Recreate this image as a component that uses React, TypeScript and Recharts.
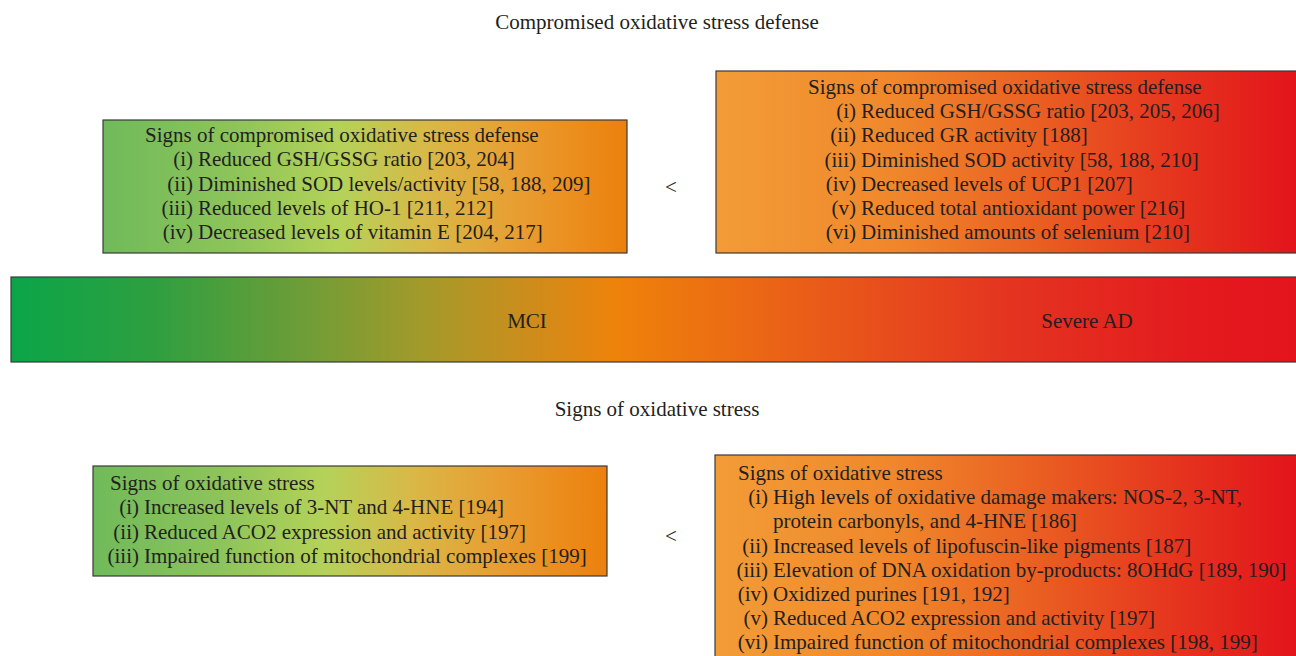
import React from 'react';
import { ComposedChart, XAxis, YAxis, ReferenceArea, ReferenceDot } from 'recharts';

// ---------- content ----------
const sectionHeadings = ['Compromised oxidative stress defense', 'Signs of oxidative stress'];
const stageLabels = ['MCI', 'Severe AD'];
const comparisonSymbol = '<';

const earlyDefenseTitle = 'Signs of compromised oxidative stress defense';
const earlyDefenseNumerals = ['(i)', '(ii)', '(iii)', '(iv)'];
const earlyDefenseItems = [
  ['Reduced GSH/GSSG ratio [203, 204]'],
  ['Diminished SOD levels/activity [58, 188, 209]'],
  ['Reduced levels of HO-1 [211, 212]'],
  ['Decreased levels of vitamin E [204, 217]'],
];

const lateDefenseTitle = 'Signs of compromised oxidative stress defense';
const lateDefenseNumerals = ['(i)', '(ii)', '(iii)', '(iv)', '(v)', '(vi)'];
const lateDefenseItems = [
  ['Reduced GSH/GSSG ratio [203, 205, 206]'],
  ['Reduced GR activity [188]'],
  ['Diminished SOD activity [58, 188, 210]'],
  ['Decreased levels of UCP1 [207]'],
  ['Reduced total antioxidant power [216]'],
  ['Diminished amounts of selenium [210]'],
];

const earlyStressTitle = 'Signs of oxidative stress';
const earlyStressNumerals = ['(i)', '(ii)', '(iii)'];
const earlyStressItems = [
  ['Increased levels of 3-NT and 4-HNE [194]'],
  ['Reduced ACO2 expression and activity [197]'],
  ['Impaired function of mitochondrial complexes [199]'],
];

const lateStressTitle = 'Signs of oxidative stress';
const lateStressNumerals = ['(i)', '(ii)', '(iii)', '(iv)', '(v)', '(vi)'];
const lateStressItems = [
  ['High levels of oxidative damage makers: NOS-2, 3-NT,', 'protein carbonyls, and 4-HNE [186]'],
  ['Increased levels of lipofuscin-like pigments [187]'],
  ['Elevation of DNA oxidation by-products: 8OHdG [189, 190]'],
  ['Oxidized purines [191, 192]'],
  ['Reduced ACO2 expression and activity [197]'],
  ['Impaired function of mitochondrial complexes [198, 199]'],
];

// ---------- layout / style ----------
const W = 1296;
const H = 656;
const FONT = '"Liberation Serif", "Times New Roman", serif';
const FS = 21;
const INK = '#231f20';
const BORDER = '#3a3a3a';

const boxes = [
  { title: earlyDefenseTitle, nums: earlyDefenseNumerals, items: earlyDefenseItems, x1: 103, x2: 627, y1: 120, y2: 253, titleDx: 42, numDx: 90, firstDy: 15, step: 24.3, grad: 'gGreen' },
  { title: lateDefenseTitle, nums: lateDefenseNumerals, items: lateDefenseItems, x1: 716, x2: 1300, y1: 71, y2: 253, titleDx: 92, numDx: 140, firstDy: 16, step: 24.2, grad: 'gRed' },
  { title: earlyStressTitle, nums: earlyStressNumerals, items: earlyStressItems, x1: 93, x2: 607, y1: 466, y2: 576, titleDx: 17, numDx: 46, firstDy: 17, step: 24.4, grad: 'gGreen' },
  { title: lateStressTitle, nums: lateStressNumerals, items: lateStressItems, x1: 715, x2: 1300, y1: 455, y2: 700, titleDx: 23, numDx: 53, firstDy: 18, step: 24.2, grad: 'gRed' },
];

const headingPos = [{ x: 657, y: 22 }, { x: 657, y: 409 }];
const stagePos = [{ x: 527, y: 321 }, { x: 1087, y: 321 }];
const symbolPos = [{ x: 671, y: 187 }, { x: 671, y: 536 }];
const bar = { x1: 11, x2: 1300, y1: 277, y2: 362 };

const makeBoxShape = (b: any) => (p: any) => {
  const { x, y, width, height } = p;
  const rows: any[] = [];
  let line = 1;
  b.items.forEach((parts: string[], i: number) => {
    parts.forEach((t: string, k: number) => {
      const ly = y + b.firstDy + line * b.step;
      if (k === 0) {
        rows.push(
          <text key={`n${i}`} x={x + b.numDx} y={ly} textAnchor="end" dominantBaseline="central" fontFamily={FONT} fontSize={FS} fill={INK}>
            {b.nums[i]}
          </text>
        );
      }
      rows.push(
        <text key={`t${i}-${k}`} x={x + b.numDx + 5} y={ly} dominantBaseline="central" fontFamily={FONT} fontSize={FS} fill={INK}>
          {t}
        </text>
      );
      line += 1;
    });
  });
  return (
    <g>
      <rect x={x} y={y} width={width} height={height} fill={`url(#${b.grad})`} stroke={BORDER} strokeWidth={1.2} />
      <text x={x + b.titleDx} y={y + b.firstDy} dominantBaseline="central" fontFamily={FONT} fontSize={FS} fill={INK}>
        {b.title}
      </text>
      {rows}
    </g>
  );
};

const textShape = (value: string) => (p: any) => (
  <text x={p.cx} y={p.cy} textAnchor="middle" dominantBaseline="central" fontFamily={FONT} fontSize={FS} fill={INK}>
    {value}
  </text>
);

const barShape = (p: any) => (
  <rect x={p.x} y={p.y} width={p.width} height={p.height} fill="url(#gBar)" stroke={BORDER} strokeWidth={1.2} />
);

export default function App() {
  return (
    <div style={{ position: 'absolute', left: 0, top: 0, width: W, height: H, background: '#fff' }}>
      <svg width={0} height={0} style={{ position: 'absolute' }}>
        <defs>
          <linearGradient id="gGreen" x1="0" y1="0" x2="1" y2="0">
            <stop offset="0" stopColor="#70ba5b" />
            <stop offset="0.25" stopColor="#8dc45a" />
            <stop offset="0.45" stopColor="#b4d259" />
            <stop offset="0.62" stopColor="#d9b847" />
            <stop offset="0.8" stopColor="#e99c30" />
            <stop offset="1" stopColor="#ec800c" />
          </linearGradient>
          <linearGradient id="gRed" x1="0" y1="0" x2="1" y2="0">
            <stop offset="0" stopColor="#f29c37" />
            <stop offset="0.3" stopColor="#f0882b" />
            <stop offset="0.55" stopColor="#ea5f22" />
            <stop offset="0.8" stopColor="#e5321e" />
            <stop offset="1" stopColor="#e3131b" />
          </linearGradient>
          <linearGradient id="gBar" x1="0" y1="0" x2="1" y2="0">
            <stop offset="0" stopColor="#0aa548" />
            <stop offset="0.11" stopColor="#2e9f40" />
            <stop offset="0.22" stopColor="#6a9d38" />
            <stop offset="0.32" stopColor="#a39a2a" />
            <stop offset="0.4" stopColor="#cc8d1c" />
            <stop offset="0.47" stopColor="#ee820a" />
            <stop offset="0.61" stopColor="#ea5f18" />
            <stop offset="0.77" stopColor="#e43520" />
            <stop offset="0.92" stopColor="#e31a1e" />
            <stop offset="1" stopColor="#e3141c" />
          </linearGradient>
        </defs>
      </svg>
      <ComposedChart width={W} height={H} margin={{ top: 0, right: 0, bottom: 0, left: 0 }} data={[]}>
        <XAxis type="number" dataKey="x" domain={[0, W]} hide allowDataOverflow />
        <YAxis type="number" dataKey="y" domain={[0, H]} reversed hide allowDataOverflow />
        <ReferenceArea x1={bar.x1} x2={bar.x2} y1={bar.y1} y2={bar.y2} ifOverflow="visible" shape={barShape} />
        {boxes.map((b, i) => (
          <ReferenceArea key={`b${i}`} x1={b.x1} x2={b.x2} y1={b.y1} y2={b.y2} ifOverflow="visible" shape={makeBoxShape(b)} />
        ))}
        {sectionHeadings.map((h, i) => (
          <ReferenceDot key={`h${i}`} x={headingPos[i].x} y={headingPos[i].y} r={0} shape={textShape(h)} />
        ))}
        {stageLabels.map((s, i) => (
          <ReferenceDot key={`s${i}`} x={stagePos[i].x} y={stagePos[i].y} r={0} shape={textShape(s)} />
        ))}
        {symbolPos.map((p, i) => (
          <ReferenceDot key={`c${i}`} x={p.x} y={p.y} r={0} shape={textShape(comparisonSymbol)} />
        ))}
      </ComposedChart>
    </div>
  );
}
